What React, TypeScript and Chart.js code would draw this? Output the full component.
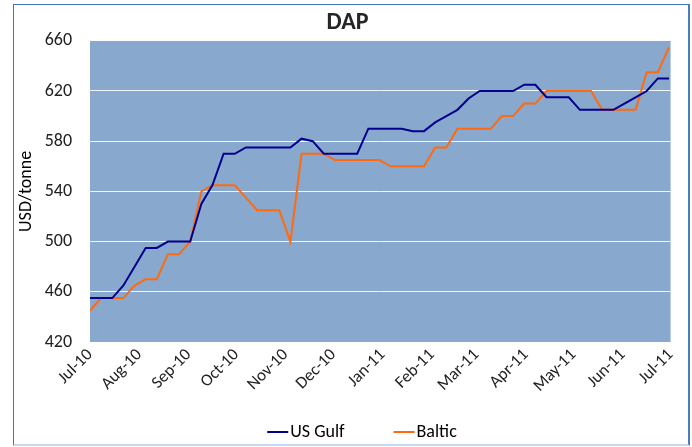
import React, { useEffect, useRef } from "react";
import { Chart, registerables } from "chart.js";

Chart.register(...registerables);

const weekDates: string[] = [
  "2010-07-01", "2010-07-08", "2010-07-15", "2010-07-22", "2010-07-29",
  "2010-08-05", "2010-08-12", "2010-08-19", "2010-08-26",
  "2010-09-02", "2010-09-09", "2010-09-16", "2010-09-23", "2010-09-30",
  "2010-10-07", "2010-10-14", "2010-10-21", "2010-10-28",
  "2010-11-04", "2010-11-11", "2010-11-18", "2010-11-25",
  "2010-12-02", "2010-12-09", "2010-12-16", "2010-12-23", "2010-12-30",
  "2011-01-06", "2011-01-13", "2011-01-20", "2011-01-27",
  "2011-02-03", "2011-02-10", "2011-02-17", "2011-02-24",
  "2011-03-03", "2011-03-10", "2011-03-17", "2011-03-24", "2011-03-31",
  "2011-04-07", "2011-04-14", "2011-04-21", "2011-04-28",
  "2011-05-05", "2011-05-12", "2011-05-19", "2011-05-26",
  "2011-06-02", "2011-06-09", "2011-06-16", "2011-06-23", "2011-06-30",
];

const usGulf: number[] = [
  455, 455, 455, 465, 480, 495, 495, 500, 500, 500,
  530, 545, 570, 570, 575, 575, 575, 575, 575, 582,
  580, 570, 570, 570, 570, 590, 590, 590, 590, 588,
  588, 595, 600, 605, 614, 620, 620, 620, 620, 625,
  625, 615, 615, 615, 605, 605, 605, 605, 610, 615,
  620, 630, 630,
];

const baltic: number[] = [
  445, 455, 455, 455, 465, 470, 470, 490, 490, 500,
  540, 545, 545, 545, 535, 525, 525, 525, 500, 570,
  570, 570, 565, 565, 565, 565, 565, 560, 560, 560,
  560, 575, 575, 590, 590, 590, 590, 600, 600, 610,
  610, 620, 620, 620, 620, 620, 605, 605, 605, 605,
  635, 635, 655,
];

const monthTickDates: string[] = [
  "2010-07-01", "2010-08-01", "2010-09-01", "2010-10-01", "2010-11-01",
  "2010-12-01", "2011-01-01", "2011-02-01", "2011-03-01", "2011-04-01",
  "2011-05-01", "2011-06-01", "2011-07-01",
];
const monthTickLabels: string[] = [
  "Jul-10", "Aug-10", "Sep-10", "Oct-10", "Nov-10", "Dec-10",
  "Jan-11", "Feb-11", "Mar-11", "Apr-11", "May-11", "Jun-11", "Jul-11",
];

const yMin = 420;
const yMax = 660;
const yStep = 40;

const DAY = 86400000;
const origin = Date.parse(monthTickDates[0] + "T00:00:00Z");
const toDay = (s: string) => Math.round((Date.parse(s + "T00:00:00Z") - origin) / DAY);

const FONT = "Carlito, Lato, 'Open Sans', sans-serif";

const plotBg = {
  id: "plotBg",
  beforeDraw(chart: any) {
    const { ctx, chartArea } = chart;
    ctx.save();
    ctx.fillStyle = "#88A9CD";
    ctx.fillRect(chartArea.left, chartArea.top, chartArea.right - chartArea.left, chartArea.bottom - chartArea.top);
    ctx.restore();
  },
};

const lineLegend = {
  id: "lineLegend",
  afterDraw(chart: any) {
    const ctx = chart.ctx;
    ctx.save();
    ctx.font = `18px ${FONT}`;
    ctx.textBaseline = "middle";
    ctx.textAlign = "left";
    const lineW = 21;
    const gap = 2;
    const itemGap = 49;
    const items = chart.data.datasets.map((d: any) => ({
      label: d.label,
      color: d.borderColor,
      w: ctx.measureText(d.label).width,
    }));
    const total =
      items.reduce((s: number, it: any) => s + lineW + gap + it.w, 0) + itemGap * (items.length - 1);
    let x = chart.width / 2 + 11 - total / 2;
    const y = chart.chartArea.bottom + 90;
    for (const it of items) {
      ctx.strokeStyle = it.color;
      ctx.lineWidth = 2;
      ctx.beginPath();
      ctx.moveTo(x, y);
      ctx.lineTo(x + lineW, y);
      ctx.stroke();
      ctx.fillStyle = "#000";
      ctx.fillText(it.label, x + lineW + gap, y);
      x += lineW + gap + it.w + itemGap;
    }
    ctx.restore();
  },
};

export default function App() {
  const ref = useRef<HTMLCanvasElement>(null);
  useEffect(() => {
    if (!ref.current) return;
    const xs = weekDates.map(toDay);
    const tickDays = monthTickDates.map(toDay);
    const chart = new Chart(ref.current, {
      type: "line",
      data: {
        datasets: [
          {
            label: "US Gulf",
            data: xs.map((x, i) => ({ x, y: usGulf[i] })),
            borderColor: "#00008E",
            backgroundColor: "#00008E",
            borderWidth: 2,
            pointRadius: 0,
            tension: 0,
          },
          {
            label: "Baltic",
            data: xs.map((x, i) => ({ x, y: baltic[i] })),
            borderColor: "#FF6A0E",
            backgroundColor: "#FF6A0E",
            borderWidth: 2,
            pointRadius: 0,
            tension: 0,
          },
        ],
      },
      options: {
        animation: false,
        responsive: false,
        devicePixelRatio: 1,
        layout: { padding: { left: 0, right: 7, top: 0, bottom: 0 } },
        plugins: {
          title: {
            display: true,
            text: "DAP",
            color: "#262626",
            font: { family: FONT, size: 24, weight: "bold" },
            padding: { top: 4, bottom: 3 },
          },
          legend: { display: false },
          tooltip: { enabled: false },
        },
        scales: {
          x: {
            type: "linear",
            min: tickDays[0],
            max: tickDays[tickDays.length - 1],
            afterBuildTicks: (axis: any) => {
              axis.ticks = tickDays.map((v) => ({ value: v }));
            },
            afterFit: (axis: any) => {
              axis.height = 102;
            },
            ticks: {
              autoSkip: false,
              minRotation: 45,
              maxRotation: 45,
              padding: 3,
              color: "#222",
              font: { family: FONT, size: 17 },
              callback: (v: any) => {
                const idx = tickDays.indexOf(Number(v));
                return idx >= 0 ? monthTickLabels[idx] : "";
              },
            },
            grid: { display: false, drawTicks: false },
            border: { display: false },
          },
          y: {
            min: yMin,
            max: yMax,
            afterFit: (axis: any) => {
              axis.width = 76;
            },
            ticks: {
              stepSize: yStep,
              padding: 18,
              color: "#222",
              font: { family: FONT, size: 18 },
            },
            title: {
              display: true,
              text: "USD/tonne",
              color: "#000",
              font: { family: FONT, size: 18 },
              padding: { top: 2, bottom: 0 },
            },
            grid: { color: "rgba(255,255,255,0.88)", lineWidth: 1, drawTicks: false },
            border: { display: false },
          },
        },
      },
      plugins: [plotBg, lineLegend],
    } as any);
    return () => chart.destroy();
  }, []);

  return (
    <div style={{ position: "absolute", left: 0, top: 0, width: 692, height: 447, background: "#fff" }}>
      <div
        style={{
          position: "absolute",
          left: 13,
          top: 4,
          width: 677,
          height: 442,
          boxSizing: "border-box",
          borderLeft: "1px solid #4472C4",
          borderTop: "1px solid #4472C4",
          borderRight: "2px solid #4A7EBB",
          borderBottom: "2px solid #C6D9F1",
        }}
      >
        <canvas ref={ref} width={674} height={439} style={{ display: "block", width: 674, height: 439 }} />
      </div>
    </div>
  );
}
